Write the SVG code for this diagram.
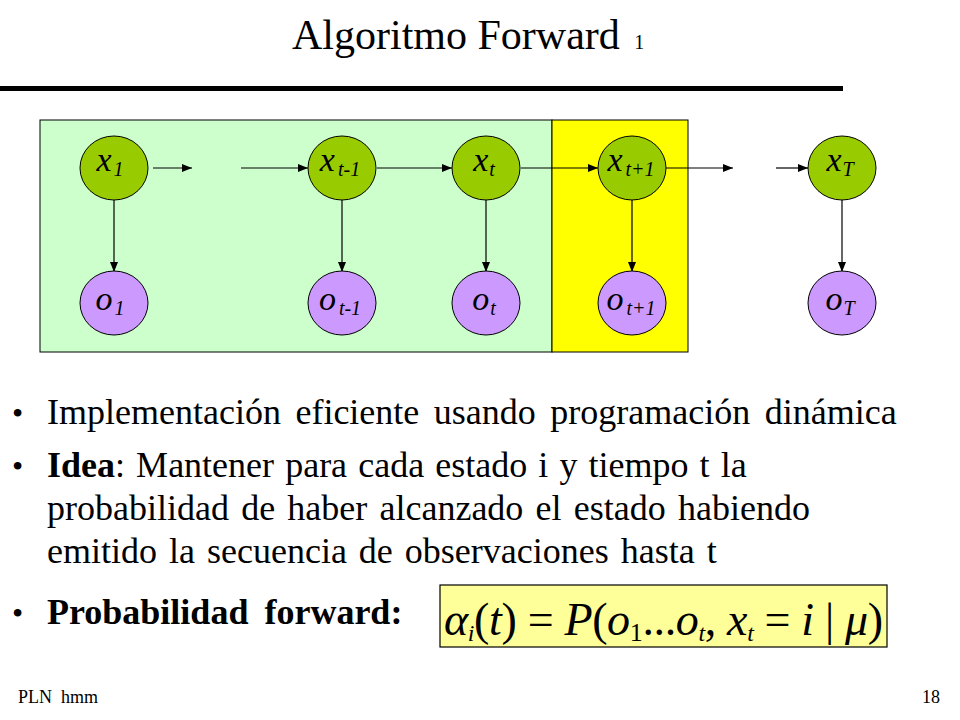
<svg xmlns="http://www.w3.org/2000/svg" width="960" height="720" viewBox="0 0 960 720">
<defs>
<marker id="ah" viewBox="0 0 10 8" refX="10" refY="4" markerWidth="10" markerHeight="8" markerUnits="userSpaceOnUse" orient="auto">
<path d="M0,0 L10,4 L0,8 Z" fill="#000"/>
</marker>
<style>
.lbl{font-style:italic;font-size:34px;fill:#000}
.sub{font-size:20px}
.xn{fill:#99CC00;stroke:#000;stroke-width:1}
.on{fill:#CC99FF;stroke:#000;stroke-width:1}
.cn{stroke:#000;stroke-width:1.2;fill:none;marker-end:url(#ah)}
.body{font-size:36px;fill:#000}
</style>
</defs>
<rect width="960" height="720" fill="#fff"/>
<g font-family="'Liberation Serif', 'DejaVu Serif', serif">
<!-- title -->
<text x="292" y="49" font-size="42">Algoritmo Forward <tspan font-size="20" dx="4">1</tspan></text>
<rect x="0" y="86" width="843" height="5" fill="#000"/>
<!-- background panels -->
<rect x="40" y="120" width="512" height="232" fill="#CCFFCC" stroke="#000" stroke-width="1"/>
<rect x="552" y="120" width="136" height="232" fill="#FFFF00" stroke="#000" stroke-width="1"/>
<!-- connectors -->
<g id="connectors">
<line class="cn" x1="153" y1="168" x2="192" y2="168"/>
<line class="cn" x1="241" y1="168" x2="308" y2="168"/>
<line class="cn" x1="377" y1="168" x2="452" y2="168"/>
<line class="cn" x1="521" y1="168" x2="598" y2="168"/>
<line class="cn" x1="666" y1="168" x2="733" y2="168"/>
<line class="cn" x1="776" y1="168" x2="808" y2="168"/>
<line class="cn" x1="114" y1="200" x2="114" y2="272"/>
<line class="cn" x1="342" y1="200" x2="342" y2="272"/>
<line class="cn" x1="486" y1="200" x2="486" y2="272"/>
<line class="cn" x1="632" y1="200" x2="632" y2="272"/>
<line class="cn" x1="842" y1="200" x2="842" y2="272"/>
</g>
<!-- nodes -->
<g id="x1"><ellipse class="xn" cx="114" cy="168" rx="34" ry="32"/><text class="lbl" x="110" y="171" text-anchor="middle">x<tspan class="sub" dx="2" dy="5">1</tspan></text></g>
<g id="xtm1"><ellipse class="xn" cx="342" cy="168" rx="34" ry="32"/><text class="lbl" x="340" y="171" text-anchor="middle">x<tspan class="sub" dx="3" dy="5">t-1</tspan></text></g>
<g id="xt"><ellipse class="xn" cx="486" cy="168" rx="34" ry="32"/><text class="lbl" x="484" y="171" text-anchor="middle">x<tspan class="sub" dx="1" dy="5">t</tspan></text></g>
<g id="xtp1"><ellipse class="xn" cx="632" cy="168" rx="34" ry="32"/><text class="lbl" x="631" y="171" text-anchor="middle">x<tspan class="sub" dx="3" dy="5">t+1</tspan></text></g>
<g id="xT"><ellipse class="xn" cx="842" cy="168" rx="34" ry="32"/><text class="lbl" x="840" y="171" text-anchor="middle">x<tspan class="sub" dx="1" dy="5">T</tspan></text></g>
<g id="o1"><ellipse class="on" cx="114" cy="303" rx="34" ry="32"/><text class="lbl" x="110" y="310" text-anchor="middle">o<tspan class="sub" dx="2" dy="5">1</tspan></text></g>
<g id="otm1"><ellipse class="on" cx="342" cy="303" rx="34" ry="32"/><text class="lbl" x="340" y="310" text-anchor="middle">o<tspan class="sub" dx="3" dy="5">t-1</tspan></text></g>
<g id="ot"><ellipse class="on" cx="486" cy="303" rx="34" ry="32"/><text class="lbl" x="484" y="310" text-anchor="middle">o<tspan class="sub" dx="1" dy="5">t</tspan></text></g>
<g id="otp1"><ellipse class="on" cx="632" cy="303" rx="34" ry="32"/><text class="lbl" x="631" y="310" text-anchor="middle">o<tspan class="sub" dx="3" dy="5">t+1</tspan></text></g>
<g id="oT"><ellipse class="on" cx="842" cy="303" rx="34" ry="32"/><text class="lbl" x="840" y="310" text-anchor="middle">o<tspan class="sub" dx="1" dy="5">T</tspan></text></g>
<!-- bullets -->
<g class="body">
<text x="12" y="424" font-size="32">•</text>
<text x="47" y="424" word-spacing="5.5">Implementación eficiente usando programación dinámica</text>
<text x="12" y="477" font-size="32">•</text>
<text x="47" y="477" word-spacing="2.1"><tspan font-weight="bold">Idea</tspan>: Mantener para cada estado i y tiempo t la</text>
<text x="47" y="520" word-spacing="3.2">probabilidad de haber alcanzado el estado habiendo</text>
<text x="47" y="563" word-spacing="3">emitido la secuencia de observaciones hasta t</text>
<text x="12" y="624" font-size="32">•</text>
<text x="47" y="624" font-weight="bold" word-spacing="7">Probabilidad forward:</text>
</g>
<!-- formula -->
<g id="formula">
<rect x="440" y="585" width="447" height="62" fill="#FFFF99" stroke="#000" stroke-width="1.2"/>
<text x="444" y="635" font-size="46" textLength="439" lengthAdjust="spacing"><tspan font-style="italic">α</tspan><tspan font-style="italic" font-size="24" dy="6">i</tspan><tspan dy="-6">(</tspan><tspan font-style="italic">t</tspan>) = <tspan font-style="italic">P</tspan>(<tspan font-style="italic">o</tspan><tspan font-size="26" dy="6">1</tspan><tspan dy="-6">...</tspan><tspan font-style="italic">o</tspan><tspan font-style="italic" font-size="24" dy="6">t</tspan><tspan dy="-6">, </tspan><tspan font-style="italic">x</tspan><tspan font-style="italic" font-size="24" dy="6">t</tspan><tspan dy="-6"> = </tspan><tspan font-style="italic">i</tspan> | <tspan font-style="italic">μ</tspan>)</text>
</g>
<!-- footer -->
<text x="18" y="703" font-size="18" xml:space="preserve">PLN  hmm</text>
<text x="940" y="703" font-size="18" text-anchor="end">18</text>
</g>
</svg>
